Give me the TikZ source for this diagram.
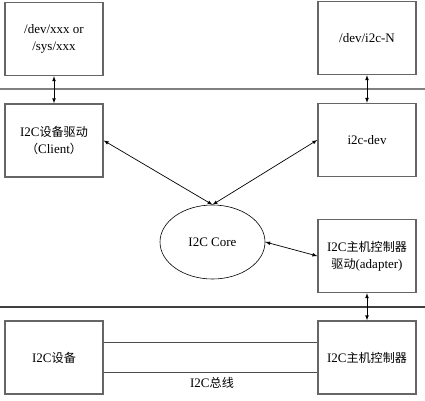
\documentclass[tikz,border=0pt]{standalone}
\usepackage{fontspec}
\setmainfont{Liberation Serif}
\newfontfamily\cjk[Scale=0.93]{Noto Sans CJK SC}
\usetikzlibrary{shapes.geometric}

\tikzset{
	box/.style={draw=black!60, line width=1.4pt, minimum width=98pt, minimum height=73pt, align=center, inner sep=0pt},
	sep/.style={line width=1.6pt},
	link/.style={<->, >=latex, line width=0.7pt},
}

\begin{document}
\begin{tikzpicture}[x=1pt, y=-1pt, font=\fontsize{13}{17}\selectfont]
			\useasboundingbox (0,0) rectangle (425,400);
			
			% layer separators
			\draw[sep, black!50] (0,89) -- (425,89);
			\draw[sep, black!75, line width=1.2pt] (0,307) -- (425,307);
			
			\node[box] (devfile) at (54,39) {/dev/xxx or\\/sys/xxx};
			\node[box] (devnode) at (367,38) {/dev/i2c-N};
			\node[box] (client) at (54,140.5) {I2C{\cjk 设备驱动}\\{\cjk （}Client{\cjk ）}};
			\node[box] (i2cdev) at (367,140) {i2c-dev};
			\node[draw, ellipse, line width=0.6pt, minimum width=105pt, minimum height=74pt] (core) at (212.5,242) {I2C Core};
			\node[box] (adapter) at (367,256) {I2C{\cjk 主机控制器}\\{\cjk 驱动}(adapter)};
			\node[box] (device) at (54,357.5) {I2C{\cjk 设备}};
			\node[box] (host) at (367,357.5) {I2C{\cjk 主机控制器}};
			\node (buslabel) at (212,383) {I2C{\cjk 总线}};
			
			\draw[link] (devfile) -- (client);
			\draw[link] (devnode) -- (i2cdev);
			\draw[link] (client.east) -- (core.north);
			\draw[link] (i2cdev.west) -- (core.north);
			\draw[link] (core.east) -- (adapter.west);
			\draw[link] (adapter) -- (host);
			
			% bus wires
			\draw[line width=0.8pt, black!70] ([yshift=15pt]device.east) -- ([yshift=15pt]host.west);
			\draw[line width=0.8pt, black!70] ([yshift=-15pt]device.east) -- ([yshift=-15pt]host.west);
		\end{tikzpicture}
\end{document}
